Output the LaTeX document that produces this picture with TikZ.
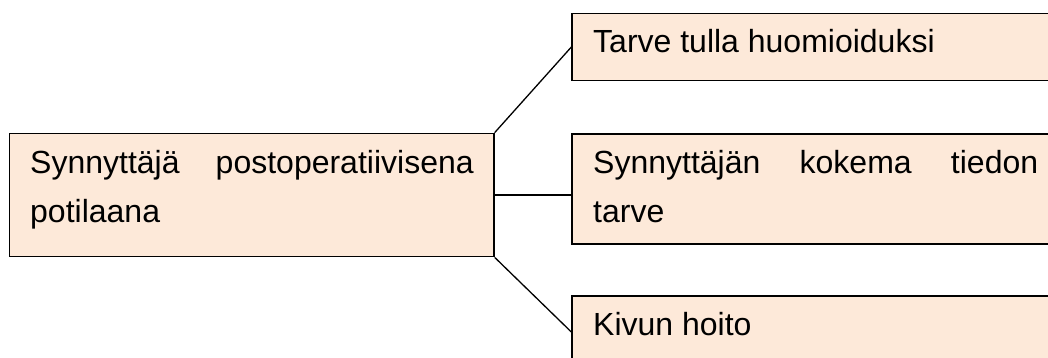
\documentclass[tikz,border=0pt]{standalone}
\usepackage{fontspec}
\setmainfont{Liberation Sans}
\begin{document}
\begin{tikzpicture}[x=1pt,y=-1pt,
  box/.style={draw=black, line width=1.3pt, fill=peach, rectangle, inner sep=0pt},
  txt/.style={anchor=base west, inner sep=0pt, align=left, font=\fontsize{32}{49.5}\selectfont},
  conn/.style={draw=black, line width=1.3pt}]
\definecolor{peach}{HTML}{FDE9D9}
\useasboundingbox (0,0) rectangle (1048,358);
\fill[white] (0,0) rectangle (1048,358);
% boxes
\node[box, minimum width=484.7pt, minimum height=123.4pt] (left) at (251.65,195) {};
\node[box, minimum width=488pt, minimum height=67.4pt] (top) at (816,47) {};
\node[box, minimum width=488pt, minimum height=110pt] (mid) at (816,189) {};
\node[box, minimum width=488pt, minimum height=72pt] (bot) at (816,332) {};
% texts
\node[txt, text width=443.5pt] (lefttext) at (30,173.3) {Synnyttäjä\hfill postoperatiivisena\\potilaana};
\node[txt] (toptext) at (593,53) {Tarve tulla huomioiduksi};
\node[txt, text width=445pt] (midtext) at (593,173.3) {Synnyttäjän\hfill kokema\hfill tiedon\\tarve};
\node[txt] (bottext) at (593,335.5) {Kivun hoito};
% connectors
\draw[conn] (left.north east) -- (top.west);
\draw[conn] (left.east) -- (left.east -| mid.west);
\draw[conn] (left.south east) -- (bot.west);
\end{tikzpicture}
\end{document}
